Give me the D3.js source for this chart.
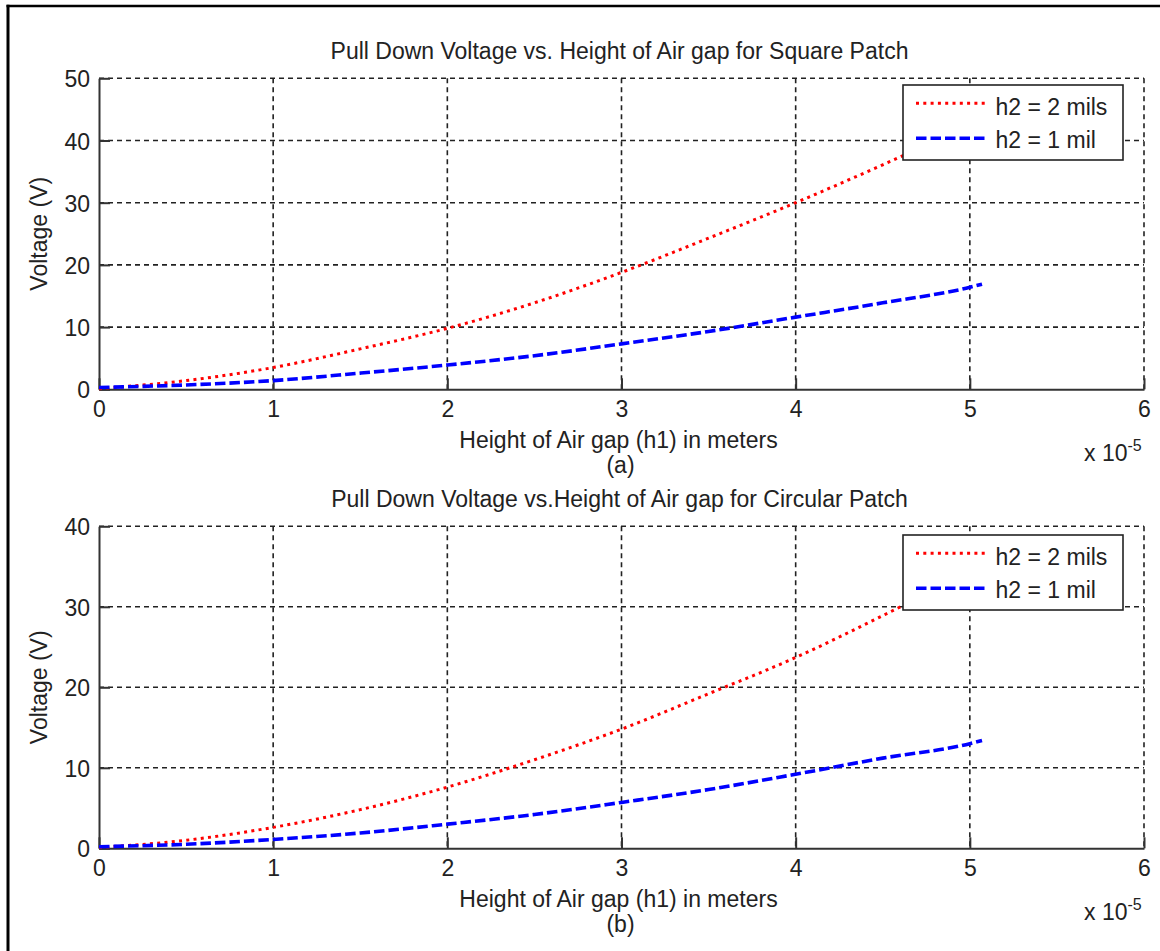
<!DOCTYPE html>
<html>
<head>
<meta charset="utf-8">
<script src="https://cdn.jsdelivr.net/npm/d3@7"></script>
<style>
  html, body { margin: 0; padding: 0; background: #ffffff; }
  svg { display: block; }
  text { font-family: "Liberation Sans", Arial, sans-serif; fill: #222; }
</style>
</head>
<body>
<svg id="chart" width="1160" height="951"></svg>
<script>
// ---- Data (h1 in meters, voltage in V) ----
const h1Meters = [0, 0.5e-5, 1e-5, 1.5e-5, 2e-5, 2.5e-5, 3e-5, 3.5e-5, 4e-5, 4.5e-5, 5e-5, 5.07e-5];

// (a) Square patch
const squareH2mils2 = [0.1, 1.4, 3.5, 6.5, 9.8, 13.9, 18.8, 24.3, 30.0, 36.1, 42.5, 43.4];
const squareH2mil1  = [0.3, 0.7, 1.4, 2.6, 3.9, 5.4, 7.3, 9.3, 11.6, 13.9, 16.4, 16.9];

// (b) Circular patch
const circH2mils2 = [0.1, 1.0, 2.6, 4.8, 7.6, 11.0, 14.8, 19.2, 23.7, 28.9, 34.3, 35.0];
const circH2mil1  = [0.2, 0.5, 1.1, 1.9, 3.0, 4.2, 5.7, 7.3, 9.2, 11.2, 13.0, 13.4];

const xTickValues = [0, 1e-5, 2e-5, 3e-5, 4e-5, 5e-5, 6e-5];
const yTicksSquare = [0, 10, 20, 30, 40, 50];
const yTicksCirc = [0, 10, 20, 30, 40];

const seriesNames = ["h2 = 2 mils", "h2 = 1 mil"];
const titles = [
  "Pull Down Voltage vs. Height of Air gap for Square Patch",
  "Pull Down Voltage vs.Height of Air gap for Circular Patch"
];
const xLabel = "Height of Air gap (h1) in meters";
const yLabel = "Voltage (V)";
const panelTags = ["(a)", "(b)"];

// ---- Layout ----
const svg = d3.select("#chart");
const W = 1160, H = 951;
svg.append("rect").attr("width", W).attr("height", H).attr("fill", "#ffffff");

// outer frame (left and top edges visible)
svg.append("line").attr("x1", 8).attr("x2", 8).attr("y1", 4.8).attr("y2", H)
  .attr("stroke", "#000").attr("stroke-width", 3);
svg.append("line").attr("x1", 6.5).attr("x2", W).attr("y1", 6).attr("y2", 6)
  .attr("stroke", "#000").attr("stroke-width", 2.5);

const plotLeft = 99, plotRight = 1144;

const panels = [
  { top: 78.3, bottom: 389.3, yMax: 50, yTicks: yTicksSquare, red: squareH2mils2, blue: squareH2mil1,
    title: titles[0], tag: panelTags[0], legendTop: 85 },
  { top: 526.3, bottom: 848.3, yMax: 40, yTicks: yTicksCirc, red: circH2mils2, blue: circH2mil1,
    title: titles[1], tag: panelTags[1], legendTop: 535 }
];

const seriesStyle = [
  { color: "#ff0000", width: 3, dash: "3,4.3" },
  { color: "#0000ff", width: 3.6, dash: "10.5,4" }
];

panels.forEach(p => {
  const x = d3.scaleLinear().domain([0, 6e-5]).range([plotLeft, plotRight]);
  const y = d3.scaleLinear().domain([0, p.yMax]).range([p.bottom, p.top]);
  const g = svg.append("g");

  // grid lines (dashed)
  g.append("g").selectAll("line").data(p.yTicks.filter(v => v > 0)).join("line")
    .attr("x1", plotLeft).attr("x2", plotRight)
    .attr("y1", d => y(d)).attr("y2", d => y(d))
    .attr("stroke", "#222").attr("stroke-width", 1.6).attr("stroke-dasharray", "5,4");
  g.append("g").selectAll("line").data(xTickValues.filter(v => v > 0)).join("line")
    .attr("x1", d => x(d)).attr("x2", d => x(d))
    .attr("y1", p.top).attr("y2", p.bottom)
    .attr("stroke", "#222").attr("stroke-width", 1.6).attr("stroke-dasharray", "5,4");

  // axes using d3 axis generators (ticks inside)
  const xAxis = d3.axisBottom(x).tickValues(xTickValues).tickSizeInner(-11).tickSizeOuter(0)
    .tickPadding(14).tickFormat(d => d3.format("d")(Math.round(d * 1e5)));
  const xa = g.append("g").attr("transform", `translate(0,${p.bottom})`).call(xAxis);
  xa.select(".domain").attr("stroke", "#333").attr("stroke-width", 2);
  xa.selectAll(".tick line").attr("stroke", "#333").attr("stroke-width", 2);
  xa.selectAll(".tick text").attr("font-size", 23).attr("font-family", "Liberation Sans, Arial, sans-serif")
    .attr("fill", "#222").attr("dy", null).attr("y", 28).attr("dominant-baseline", "auto");

  const yAxis = d3.axisLeft(y).tickValues(p.yTicks).tickSizeInner(-11).tickSizeOuter(0).tickFormat(d3.format("d"));
  const ya = g.append("g").attr("transform", `translate(${plotLeft},0)`).call(yAxis);
  ya.select(".domain").attr("stroke", "#333").attr("stroke-width", 2);
  ya.selectAll(".tick line").attr("stroke", "#333").attr("stroke-width", 2);
  ya.selectAll(".tick text").attr("font-size", 23).attr("font-family", "Liberation Sans, Arial, sans-serif")
    .attr("fill", "#222").attr("x", -9).attr("dy", null).attr("y", 8.5);

  // series
  const line = d3.line().x((d, i) => x(h1Meters[i])).y(d => y(d)).curve(d3.curveMonotoneX);
  [p.red, p.blue].forEach((vals, k) => {
    g.append("path").datum(vals).attr("d", line).attr("fill", "none")
      .attr("stroke", seriesStyle[k].color).attr("stroke-width", seriesStyle[k].width)
      .attr("stroke-dasharray", seriesStyle[k].dash);
  });

  // legend
  const lx = 903, lw = 220, lh = 75;
  const lg = g.append("g");
  lg.append("rect").attr("x", lx).attr("y", p.legendTop).attr("width", lw).attr("height", lh)
    .attr("fill", "#fff").attr("stroke", "#222").attr("stroke-width", 1.6);
  seriesNames.forEach((name, k) => {
    const ly = p.legendTop + 18.3 + k * 35;
    lg.append("line").attr("x1", 916).attr("x2", 985).attr("y1", ly).attr("y2", ly)
      .attr("stroke", seriesStyle[k].color).attr("stroke-width", seriesStyle[k].width)
      .attr("stroke-dasharray", seriesStyle[k].dash);
    lg.append("text").attr("x", 995.5).attr("y", p.legendTop + 30 + k * 33.3)
      .attr("font-size", 23).text(name);
  });

  // title and labels
  const cx = (plotLeft + plotRight) / 2;
  g.append("text").attr("x", cx - 2).attr("y", p.top - 19).attr("text-anchor", "middle")
    .attr("font-size", 23).text(p.title);
  g.append("text").attr("x", cx - 3).attr("y", p.bottom + 59).attr("text-anchor", "middle")
    .attr("font-size", 23).text(xLabel);
  g.append("text").attr("x", cx - 1).attr("y", p.bottom + 84).attr("text-anchor", "middle")
    .attr("font-size", 23).text(p.tag);
  g.append("text").attr("transform", `translate(47,${(p.top + p.bottom) / 2}) rotate(-90)`)
    .attr("text-anchor", "middle").attr("font-size", 23).text(yLabel);

  // exponent label
  const ex = g.append("text").attr("x", 1084).attr("y", p.bottom + 72).attr("font-size", 23);
  ex.append("tspan").text("x 10");
  ex.append("tspan").attr("font-size", 16).attr("dy", -10).text("-5");
});
</script>
</body>
</html>
